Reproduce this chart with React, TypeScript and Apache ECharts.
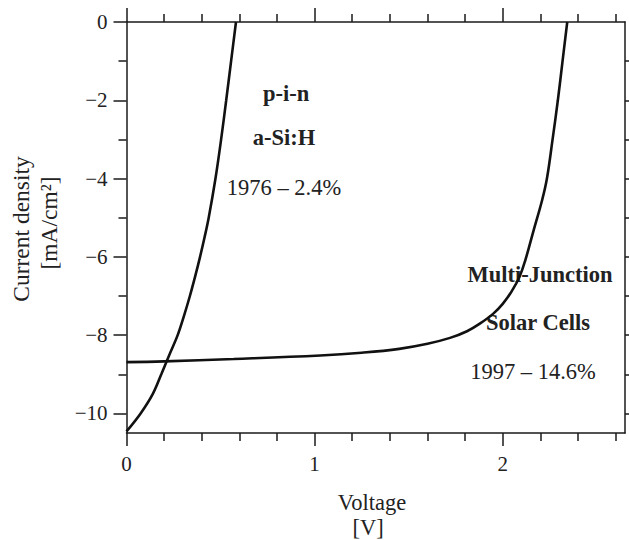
import React, { useEffect, useRef } from "react";
import * as echarts from "echarts";

// ---- data ----
const pinVoltage = [0, 0.075, 0.14, 0.185, 0.228, 0.272, 0.306, 0.337, 0.365, 0.391, 0.415, 0.437, 0.473, 0.503, 0.53, 0.556, 0.582];
const pinCurrent = [-10.46, -10, -9.5, -9, -8.5, -8, -7.5, -7, -6.5, -6, -5.5, -5, -4, -3, -2, -1, 0];

const mjVoltage = [0, 0.2, 0.57, 1.03, 1.25, 1.45, 1.6, 1.72, 1.81, 1.88, 1.95, 2.0, 2.045, 2.09, 2.121, 2.165, 2.21, 2.235, 2.265, 2.293, 2.318, 2.343];
const mjCurrent = [-8.69, -8.67, -8.61, -8.52, -8.45, -8.35, -8.22, -8.07, -7.9, -7.7, -7.45, -7.2, -6.9, -6.5, -6.07, -5.31, -4.54, -4.0, -3.0, -2.0, -1.0, 0];

const xMajorTicks = [0, 1, 2];
const xMinorTicks = [0.2, 0.4, 0.6, 0.8, 1.2, 1.4, 1.6, 1.8, 2.2, 2.4, 2.6];
const yMajorTicks = [0, -2, -4, -6, -8, -10];
const yMinorTicks = [-1, -3, -5, -7, -9];
const yRightTicks = [-1, -2, -3, -4, -5, -6, -7, -8, -9, -10];

const X_MIN = 0;
const X_MAX = 2.65;
const Y_MIN = -10.5;
const Y_MAX = 0;

const INK = "#1a1a1a";
const SERIF = "'Liberation Serif', 'DejaVu Serif', serif";

export default function App() {
  const ref = useRef<HTMLDivElement>(null);

  useEffect(() => {
    if (!ref.current) return;
    const chart = echarts.init(ref.current, undefined, { renderer: "svg" });

    const line = (show: boolean) => ({ show, onZero: false, lineStyle: { color: INK, width: 1.5 } });
    const xAxisBase = (position: string, ticks: number[], len: number, labels: boolean, showLine: boolean) => ({
      type: "value",
      position,
      min: X_MIN,
      max: X_MAX,
      axisLine: line(showLine),
      axisTick: { show: true, inside: false, length: len, customValues: ticks, lineStyle: { color: INK, width: 1.5 } },
      axisLabel: labels
        ? { show: true, customValues: ticks, margin: 20, color: "#222", fontFamily: SERIF, fontSize: 21, formatter: (v: number) => String(v) }
        : { show: false },
      splitLine: { show: false },
    });
    const fmtY = (v: number) => (v === 0 ? "0" : "\u2212" + Math.abs(v));
    const yAxisBase = (position: string, ticks: number[], len: number, labels: boolean, showLine: boolean) => ({
      type: "value",
      position,
      min: Y_MIN,
      max: Y_MAX,
      axisLine: line(showLine),
      axisTick: { show: true, inside: false, length: len, customValues: ticks, lineStyle: { color: INK, width: 1.5 } },
      axisLabel: labels
        ? { show: true, customValues: ticks, margin: 19, color: "#222", fontFamily: SERIF, fontSize: 21, formatter: fmtY }
        : { show: false },
      splitLine: { show: false },
    });

    const pinData = pinVoltage.map((v, i) => [v, pinCurrent[i]]);
    const mjData = mjVoltage.map((v, i) => [v, mjCurrent[i]]);

    const txt = (text: string, x: number, y: number, bold: boolean, size: number, extra: any = {}) => ({
      type: "text",
      x,
      y,
      ...extra,
      style: {
        text,
        fill: "#222",
        font: `${bold ? "bold " : ""}${size}px ${SERIF}`,
        textAlign: "center",
        textVerticalAlign: "middle",
      },
    });

    chart.setOption({
      animation: false,
      backgroundColor: "#ffffff",
      grid: { left: 126.5, right: 4, top: 22, bottom: 107, containLabel: false, outerBoundsMode: "none" },
      xAxis: [
        xAxisBase("bottom", xMajorTicks, 13, true, true),
        xAxisBase("bottom", xMinorTicks, 8, false, false),
        xAxisBase("top", xMajorTicks, 14, false, true),
        xAxisBase("top", xMinorTicks, 8, false, false),
      ],
      yAxis: [
        yAxisBase("left", yMajorTicks, 13, true, true),
        yAxisBase("left", yMinorTicks, 8, false, false),
        yAxisBase("right", yRightTicks, 6, false, true),
      ],
      series: [
        {
          name: "p-i-n a-Si:H",
          type: "line",
          xAxisIndex: 0,
          yAxisIndex: 0,
          data: pinData,
          smooth: 0.35,
          showSymbol: false,
          lineStyle: { color: "#111", width: 2.6 },
        },
        {
          name: "Multi-Junction",
          type: "line",
          xAxisIndex: 0,
          yAxisIndex: 0,
          data: mjData,
          smooth: 0.4,
          showSymbol: false,
          lineStyle: { color: "#111", width: 2.6 },
        },
      ],
      graphic: [
        txt("p-i-n", 286, 93, true, 22.5),
        txt("a-Si:H", 284, 137, true, 22.5),
        txt("1976 \u2013 2.4%", 284, 187, false, 22.5),
        txt("Multi-Junction", 540, 274, true, 22.5),
        txt("Solar Cells", 538, 322, true, 22.5),
        txt("1997 \u2013 14.6%", 533, 371, false, 22.5),
        txt("Voltage", 372, 502, false, 22.5),
        txt("[V]", 368, 527, false, 22.5),
        txt("Current density", 21, 229, false, 23.5, { rotation: Math.PI / 2 }),
        txt("[mA/cm\u00b2]", 49, 223, false, 23.5, { rotation: Math.PI / 2 }),
      ],
    });

    return () => chart.dispose();
  }, []);

  return (
    <div
      ref={ref}
      style={{ position: "fixed", left: 0, top: 0, width: 629, height: 540, background: "#fff" }}
    />
  );
}
